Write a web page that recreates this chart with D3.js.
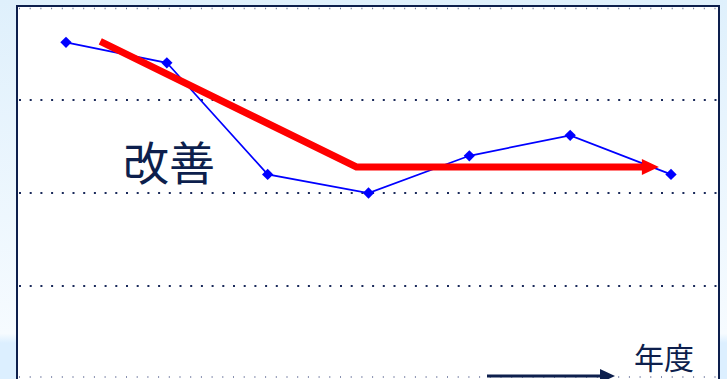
<!DOCTYPE html>
<html>
<head>
<meta charset="utf-8">
<script src="https://cdn.jsdelivr.net/npm/d3@7"></script>
<style>
  body { margin: 0; padding: 0; overflow: hidden; }
</style>
</head>
<body>
<div id="container"></div>
<script>
let w = 727;
let h = 379;

// data
let years = [1, 2, 3, 4, 5, 6, 7];
let values = [3.62, 3.40, 2.20, 2.00, 2.40, 2.62, 2.20];
let gridValues = [1, 2, 3];
// red trend arrow (x in year units, y in value units)
let trendX = [1.34, 3.88, 6.88];
let trendY = [3.63, 2.28, 2.28];
let trendLabel = "改善";
let axisLabel = "年度";

let x = d3.scaleLinear().domain([1, 7]).range([66, 671]);
let y = d3.scaleLinear().domain([0, 4]).range([379, 7]);

let viz = d3.select("#container")
  .append("svg")
    .attr("width", w)
    .attr("height", h)
;

let defs = viz.append("defs");
let grad = defs.append("linearGradient")
    .attr("id", "bg")
    .attr("x1", 0).attr("y1", 0)
    .attr("x2", 0).attr("y2", 1)
;
grad.append("stop").attr("offset", "0%").attr("stop-color", "#dff0fc");
grad.append("stop").attr("offset", "88%").attr("stop-color", "#f6fbff");
grad.append("stop").attr("offset", "90.5%").attr("stop-color", "#dcefff");
grad.append("stop").attr("offset", "100%").attr("stop-color", "#dcefff");

viz.append("rect")
    .attr("width", w)
    .attr("height", h)
    .attr("fill", "url(#bg)")
;

// plot box
viz.append("rect")
    .attr("x", 17)
    .attr("y", 6)
    .attr("width", 702)
    .attr("height", 380)
    .attr("fill", "white")
    .style("stroke", "#0d1f4d")
    .style("stroke-width", 2)
;

// dotted grid
viz.selectAll(".grid")
  .data(gridValues)
  .enter()
  .append("line")
    .attr("class", "grid")
    .attr("x1", 19)
    .attr("x2", 718)
    .attr("y1", d => y(d))
    .attr("y2", d => y(d))
    .style("stroke", "#1a2a5a")
    .style("stroke-width", 2)
    .style("stroke-dasharray", "2 8.7")
;

viz.append("line")
    .attr("x1", 19)
    .attr("x2", 718)
    .attr("y1", y(0) - 2)
    .attr("y2", y(0) - 2)
    .style("stroke", "#8890b0")
    .style("stroke-width", 2)
    .style("stroke-dasharray", "1 9.7")
;

viz.append("line")
    .attr("x1", 19)
    .attr("x2", 718)
    .attr("y1", y(4) + 1.5)
    .attr("y2", y(4) + 1.5)
    .style("stroke", "#6a7698")
    .style("stroke-width", 1.5)
    .style("stroke-dasharray", "1 9.7")
;

// blue series
let line = d3.line()
    .x((d, i) => x(years[i]))
    .y(d => y(d));

viz.append("path")
    .attr("d", line(values))
    .attr("fill", "none")
    .style("stroke", "#0000ff")
    .style("stroke-width", 1.7)
;

viz.selectAll(".pt")
  .data(values)
  .enter()
  .append("path")
    .attr("class", "pt")
    .attr("d", d3.symbol().type(d3.symbolSquare).size(64))
    .attr("transform", (d, i) => "translate(" + x(years[i]) + "," + y(d) + ") rotate(45)")
    .attr("fill", "#0000ff")
;

// red trend arrow
let headLen = 17;
let trendPts = trendX.map((d, i) => [x(d), y(trendY[i])]);
let last = trendPts[trendPts.length - 1];
let shaft = trendPts.slice(0, -1).concat([[last[0] - headLen + 2, last[1]]]);

viz.append("path")
    .attr("d", d3.line()(shaft))
    .attr("fill", "none")
    .style("stroke", "#ff0000")
    .style("stroke-width", 7)
    .style("stroke-linejoin", "miter")
;

viz.append("path")
    .attr("d", d3.line()([
      [last[0], last[1]],
      [last[0] - headLen, last[1] - 8],
      [last[0] - headLen, last[1] + 8]
    ]) + "Z")
    .attr("fill", "#ff0000")
;

viz.append("text")
    .text(trendLabel)
    .attr("fill", "#0d1f4d")
    .attr("x", 123)
    .attr("y", 180)
    .style("font-size", 46)
    .style("font-family", "Noto Sans CJK JP")
;

// year axis arrow
viz.append("line")
    .attr("x1", 487)
    .attr("x2", 604)
    .attr("y1", 376)
    .attr("y2", 376)
    .style("stroke", "#0d1f4d")
    .style("stroke-width", 3)
;

viz.append("path")
    .attr("d", "M 615 376 L 600 369 L 600 383 Z")
    .attr("fill", "#0d1f4d")
;

viz.append("text")
    .text(axisLabel)
    .attr("fill", "#0d1f4d")
    .attr("x", 634)
    .attr("y", 369)
    .style("font-size", 30)
    .style("font-family", "Noto Sans CJK JP")
;
</script>
</body>
</html>
